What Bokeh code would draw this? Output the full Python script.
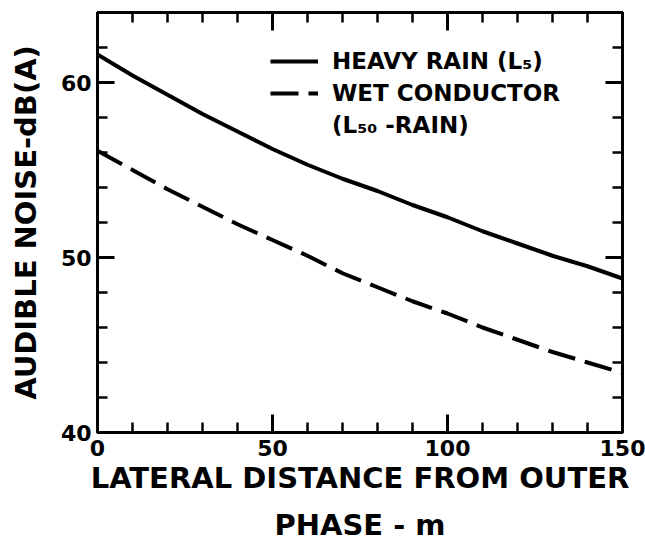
from bokeh.plotting import figure
from bokeh.models import (Range1d, LinearAxis, FixedTicker, Legend, LegendItem,
                          ColumnDataSource, CustomLabelingPolicy)
from bokeh.embed import file_html
from bokeh.resources import INLINE

# ---- data ----
distance_m = [0, 10, 20, 30, 40, 50, 60, 70, 80, 90, 100, 110, 120, 130, 140, 150]
heavy_rain_l5 = [61.6, 60.4, 59.3, 58.2, 57.2, 56.2, 55.3, 54.5, 53.8, 53.0,
                 52.3, 51.5, 50.8, 50.1, 49.5, 48.8]
wet_conductor_l50 = [56.1, 55.0, 53.9, 52.9, 51.9, 51.0, 50.1, 49.1, 48.3, 47.5,
                     46.8, 46.0, 45.3, 44.6, 44.0, 43.4]

x_major_ticks = [0, 50, 100, 150]
x_minor_ticks = [10, 20, 30, 40, 60, 70, 80, 90, 110, 120, 130, 140]
y_major_ticks = [40, 50, 60]
y_minor_ticks = [42, 44, 46, 48, 52, 54, 56, 58, 62, 64]

x_title = "LATERAL DISTANCE FROM OUTER\nPHASE - m"
y_title = "AUDIBLE NOISE-dB(A)"
label_heavy = "HEAVY RAIN (L₅)"
label_wet = "WET CONDUCTOR"
label_wet_2 = "(L₅₀ -RAIN)"

FONT = "DejaVu Sans"

src = ColumnDataSource(dict(x=distance_m, heavy=heavy_rain_l5, wet=wet_conductor_l50))

p = figure(width=645, height=545, output_backend="svg", toolbar_location=None,
           x_range=Range1d(0, 150), y_range=Range1d(40, 64),
           min_border_left=97, min_border_right=23, min_border_top=12,
           min_border_bottom=112)
p.grid.visible = False
p.outline_line_color = "black"
p.outline_line_width = 3
p.background_fill_color = "white"
p.border_fill_color = "white"

r1 = p.line("x", "heavy", source=src, line_color="black", line_width=4)
r2 = p.line("x", "wet", source=src, line_color="black", line_width=4,
            line_dash="28 10")

xt = FixedTicker(ticks=x_major_ticks, minor_ticks=x_minor_ticks)
yt = FixedTicker(ticks=y_major_ticks, minor_ticks=y_minor_ticks)


def style_axis(ax, major_len, minor_len, labels=True):
    ax.axis_line_width = 3
    ax.axis_line_color = "black"
    ax.major_tick_in = major_len
    ax.major_tick_out = 0
    ax.minor_tick_in = minor_len
    ax.minor_tick_out = 0
    ax.major_tick_line_width = 3
    ax.minor_tick_line_width = 2.5
    ax.major_tick_line_color = "black"
    ax.minor_tick_line_color = "black"
    if labels:
        ax.major_label_text_font = FONT
        ax.major_label_text_font_style = "bold"
        ax.major_label_text_font_size = "22px"
        ax.major_label_text_color = "black"
    else:
        ax.major_label_policy = CustomLabelingPolicy(code="return []")
        ax.major_label_text_font_size = "0px"
        ax.major_label_standoff = 0


xa = p.xaxis[0]
xa.ticker = xt
style_axis(xa, 18, 10)
xa.major_label_standoff = 7
xa.axis_label = x_title
xa.axis_label_text_font = FONT
xa.axis_label_text_font_style = "bold"
xa.axis_label_text_font_size = "29px"
xa.axis_label_text_color = "black"
xa.axis_label_text_line_height = 1.4
xa.axis_label_standoff = 2

ya = p.yaxis[0]
ya.ticker = yt
style_axis(ya, 17, 10)
ya.major_label_standoff = 6
ya.axis_label = y_title
ya.axis_label_text_font = FONT
ya.axis_label_text_font_style = "bold"
ya.axis_label_text_font_size = "29px"
ya.axis_label_text_color = "black"
ya.axis_label_standoff = 15

top = LinearAxis(ticker=xt)
style_axis(top, 18, 10, labels=False)
p.add_layout(top, "above")
right = LinearAxis(ticker=yt)
style_axis(right, 17, 10, labels=False)
p.add_layout(right, "right")

legend = Legend(items=[LegendItem(label=label_heavy, renderers=[r1]),
                       LegendItem(label=label_wet, renderers=[r2]),
                       LegendItem(label=label_wet_2, renderers=[])],
                location=(173, 294), glyph_width=48, glyph_height=24,
                label_standoff=14, padding=0, margin=0, spacing=6,
                border_line_color=None, background_fill_alpha=0,
                label_text_font=FONT, label_text_font_style="bold",
                label_text_font_size="23px", label_text_color="black",
                label_height=24)
p.add_layout(legend)

open("out.html", "w").write(file_html(p, INLINE))
